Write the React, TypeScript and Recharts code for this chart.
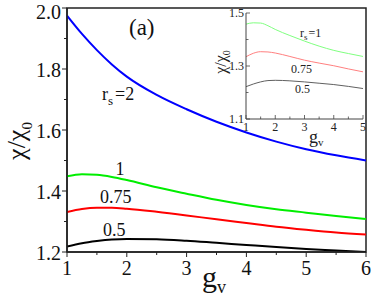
import React from 'react';
import { LineChart, Line, XAxis, YAxis, ReferenceArea } from 'recharts';

// ---------- main panel data ----------
const gvMain = [1, 1.25, 1.5, 1.75, 2, 2.5, 3, 3.5, 4, 4.5, 5, 5.5, 6];
const rs2 = [1.975, 1.915, 1.862, 1.815, 1.775, 1.715, 1.668, 1.627, 1.592, 1.562, 1.537, 1.517, 1.5];
const rs1 = [1.448, 1.455, 1.453, 1.446, 1.436, 1.412, 1.391, 1.371, 1.354, 1.34, 1.329, 1.318, 1.308];
const rs075 = [1.331, 1.341, 1.345, 1.345, 1.342, 1.332, 1.32, 1.307, 1.295, 1.283, 1.273, 1.264, 1.257];
const rs05 = [1.218, 1.229, 1.236, 1.241, 1.243, 1.242, 1.237, 1.23, 1.223, 1.216, 1.21, 1.205, 1.2];

const mainXTicks = [1, 1.5, 2, 2.5, 3, 3.5, 4, 4.5, 5, 5.5, 6];
const mainYTicks = [1.2, 1.3, 1.4, 1.5, 1.6, 1.7, 1.8, 1.9, 2.0];

// ---------- inset data ----------
const gvInset = [1, 1.25, 1.5, 1.75, 2, 2.5, 3, 3.5, 4, 4.5, 5];
const inRs1 = [1.458, 1.463, 1.462, 1.452, 1.438, 1.415, 1.394, 1.375, 1.359, 1.347, 1.336];
const inRs075 = [1.335, 1.348, 1.354, 1.353, 1.349, 1.336, 1.322, 1.311, 1.301, 1.289, 1.278];
const inRs05 = [1.222, 1.232, 1.24, 1.245, 1.246, 1.244, 1.24, 1.235, 1.23, 1.223, 1.215];

const insetXTicks = [1, 1.5, 2, 2.5, 3, 3.5, 4, 4.5, 5];
const insetYTicks = [1.1, 1.2, 1.3, 1.4, 1.5];
const insetYLabels = [1.1, 1.3, 1.5];

const mainData = gvMain.map((g, i) => ({ g, a: rs2[i], b: rs1[i], c: rs075[i], d: rs05[i] }));
const insetData = gvInset.map((g, i) => ({ g, b: inRs1[i], c: inRs075[i], d: inRs05[i] }));

const SERIF = "'Liberation Serif', 'Times New Roman', Times, 'DejaVu Serif', serif";
const T = { fontFamily: SERIF };

const isInt = (v: number) => Math.abs(v - Math.round(v)) < 1e-6;
const isEvenTenth = (v: number) => Math.round(v * 10) % 2 === 0;
const isInsetLabel = (v: number) => insetYLabels.some((l) => Math.abs(l - v) < 1e-6);

const MainXTick = (props: any) => {
  const { x, y, payload } = props;
  const v = payload.value;
  const major = isInt(v);
  return (
    <g>
      <line x1={x} y1={y} x2={x} y2={y + (major ? 5 : 3)} stroke="#222" strokeWidth={1} />
      {major && (
        <text x={x} y={y + 23} textAnchor="middle" fontSize={20} style={T} fill="#111">
          {v}
        </text>
      )}
    </g>
  );
};

const MainYTick = (props: any) => {
  const { x, y, payload } = props;
  const v = payload.value;
  const major = isEvenTenth(v);
  return (
    <g>
      <line x1={x} y1={y} x2={x - (major ? 5 : 3)} y2={y} stroke="#222" strokeWidth={1} />
      {major && (
        <text x={x - 6} y={Math.max(y + 8, 19)} textAnchor="end" fontSize={20} style={T} fill="#111">
          {v.toFixed(1)}
        </text>
      )}
    </g>
  );
};

const InsetXTick = (props: any) => {
  const { x, y, payload } = props;
  const v = payload.value;
  const major = isInt(v);
  return (
    <g>
      <line x1={x} y1={y} x2={x} y2={y - (major ? 4 : 2.5)} stroke="#444" strokeWidth={0.8} />
      {major && (
        <text x={x} y={y + 12} textAnchor="middle" fontSize={12} style={T} fill="#222">
          {v}
        </text>
      )}
    </g>
  );
};

const InsetXTopTick = (props: any) => {
  const { x, y, payload } = props;
  const major = isInt(payload.value);
  return <line x1={x} y1={y} x2={x} y2={y + (major ? 4 : 2.5)} stroke="#444" strokeWidth={0.8} />;
};

const InsetYTick = (props: any) => {
  const { x, y, payload } = props;
  const v = payload.value;
  const lab = isInsetLabel(v);
  return (
    <g>
      <line x1={x} y1={y} x2={x + (lab ? 4 : 2.5)} y2={y} stroke="#444" strokeWidth={0.8} />
      {lab && (
        <text x={x - 2} y={y + 4} textAnchor="end" fontSize={12} style={T} fill="#222">
          {v.toFixed(1)}
        </text>
      )}
    </g>
  );
};

const InsetYRightTick = (props: any) => {
  const { x, y, payload } = props;
  const lab = isInsetLabel(payload.value);
  return <line x1={x} y1={y} x2={x - (lab ? 4 : 2.5)} y2={y} stroke="#444" strokeWidth={0.8} />;
};

export default function App() {
  return (
    <div style={{ position: 'absolute', left: 0, top: 0, width: 374, height: 299, background: '#fff' }}>
      <div style={{ position: 'absolute', left: 0, top: 0 }}>
        <LineChart width={374} height={299} data={mainData} margin={{ top: 8, right: 8, left: 0, bottom: 0 }}>
          <XAxis
            xAxisId="b"
            dataKey="g"
            type="number"
            domain={[1, 6]}
            ticks={mainXTicks}
            interval={0}
            height={47}
            tickSize={0}
            tickMargin={0}
            tickLine={false}
            axisLine={{ stroke: '#222', strokeWidth: 1.5 }}
            tick={<MainXTick />}
            allowDataOverflow
          />
          <YAxis
            yAxisId="l"
            type="number"
            domain={[1.2, 2.0]}
            ticks={mainYTicks}
            interval={0}
            width={67}
            tickSize={0}
            tickMargin={0}
            tickLine={false}
            axisLine={{ stroke: '#222', strokeWidth: 1.5 }}
            tick={<MainYTick />}
            allowDataOverflow
          />
          <ReferenceArea
            xAxisId="b"
            yAxisId="l"
            x1={1}
            x2={6}
            y1={1.2}
            y2={2.0}
            fill="none"
            stroke="#222"
            strokeWidth={1.5}
            ifOverflow="visible"
          />
          <Line xAxisId="b" yAxisId="l" dataKey="a" type="monotone" stroke="#0000ff" strokeWidth={2} dot={false} isAnimationActive={false} />
          <Line xAxisId="b" yAxisId="l" dataKey="b" type="monotone" stroke="#00ee00" strokeWidth={2} dot={false} isAnimationActive={false} />
          <Line xAxisId="b" yAxisId="l" dataKey="c" type="monotone" stroke="#ff0000" strokeWidth={2} dot={false} isAnimationActive={false} />
          <Line xAxisId="b" yAxisId="l" dataKey="d" type="monotone" stroke="#000000" strokeWidth={2} dot={false} isAnimationActive={false} />
        </LineChart>
      </div>

      <div style={{ position: 'absolute', left: 200, top: 0 }}>
        <LineChart width={174} height={160} data={insetData} margin={{ top: 13, right: 11, left: 0, bottom: 0 }}>
          <XAxis
            xAxisId="b"
            dataKey="g"
            type="number"
            domain={[1, 5]}
            ticks={insetXTicks}
            interval={0}
            height={41}
            tickSize={0}
            tickMargin={0}
            tickLine={false}
            axisLine={{ stroke: '#444', strokeWidth: 1 }}
            tick={<InsetXTick />}
            allowDataOverflow
          />
          <XAxis
            xAxisId="t"
            orientation="top"
            dataKey="g"
            type="number"
            domain={[1, 5]}
            ticks={insetXTicks}
            interval={0}
            height={0}
            tickSize={0}
            tickMargin={0}
            tickLine={false}
            axisLine={{ stroke: '#444', strokeWidth: 1 }}
            tick={<InsetXTopTick />}
            allowDataOverflow
          />
          <YAxis
            yAxisId="l"
            type="number"
            domain={[1.1, 1.5]}
            ticks={insetYTicks}
            interval={0}
            width={46}
            tickSize={0}
            tickMargin={0}
            tickLine={false}
            axisLine={{ stroke: '#444', strokeWidth: 1 }}
            tick={<InsetYTick />}
            allowDataOverflow
          />
          <YAxis
            yAxisId="r"
            orientation="right"
            type="number"
            domain={[1.1, 1.5]}
            ticks={insetYTicks}
            interval={0}
            width={0}
            tickSize={0}
            tickMargin={0}
            tickLine={false}
            axisLine={{ stroke: '#444', strokeWidth: 1 }}
            tick={<InsetYRightTick />}
            allowDataOverflow
          />
          <Line xAxisId="b" yAxisId="l" dataKey="b" type="monotone" stroke="#80ff80" strokeWidth={1} dot={false} isAnimationActive={false} />
          <Line xAxisId="b" yAxisId="l" dataKey="c" type="monotone" stroke="#ff8080" strokeWidth={1} dot={false} isAnimationActive={false} />
          <Line xAxisId="b" yAxisId="l" dataKey="d" type="monotone" stroke="#606060" strokeWidth={1} dot={false} isAnimationActive={false} />
        </LineChart>
      </div>

      <svg
        width={374}
        height={299}
        style={{ position: 'absolute', left: 0, top: 0, pointerEvents: 'none', fontFamily: SERIF }}
      >
        {/* main axis titles */}
        <text transform="translate(25,141) rotate(-90)" textAnchor="middle" fontSize={26} style={T} fill="#111">
          χ/χ<tspan fontSize={15} dy={7}>0</tspan>
        </text>
        <text x={202} y={287} fontSize={30} style={T} fill="#111">
          g<tspan fontSize={18} dy={6}>v</tspan>
        </text>
        {/* panel tag */}
        <text x={129} y={35} fontSize={23} style={T} fill="#111">(a)</text>
        {/* curve labels */}
        <text x={102} y={100} fontSize={18} style={T} fill="#111">
          r<tspan fontSize={13} dy={5}>s</tspan>
          <tspan dy={-5} dx={2}>=2</tspan>
        </text>
        <text x={120} y={175} fontSize={18} textAnchor="middle" style={T} fill="#111">1</text>
        <text x={100} y={203} fontSize={18} style={T} fill="#111">0.75</text>
        <text x={103} y={236} fontSize={18} style={T} fill="#111">0.5</text>

        {/* inset titles */}
        <text transform="translate(226,62) rotate(-90)" textAnchor="middle" fontSize={16} style={T} fill="#222">
          χ/χ<tspan fontSize={10} dy={4}>0</tspan>
        </text>
        <text x={309} y={143} fontSize={18} style={T} fill="#222">
          g<tspan fontSize={11} dy={3}>v</tspan>
        </text>
        {/* inset labels */}
        <text x={300} y={37} fontSize={12} style={T} fill="#222">
          r<tspan fontSize={9} dy={3}>s</tspan>
          <tspan dy={-3} dx={1}>=1</tspan>
        </text>
        <text x={291} y={73} fontSize={12} style={T} fill="#222">0.75</text>
        <text x={295} y={93} fontSize={12} style={T} fill="#222">0.5</text>
      </svg>
    </div>
  );
}
